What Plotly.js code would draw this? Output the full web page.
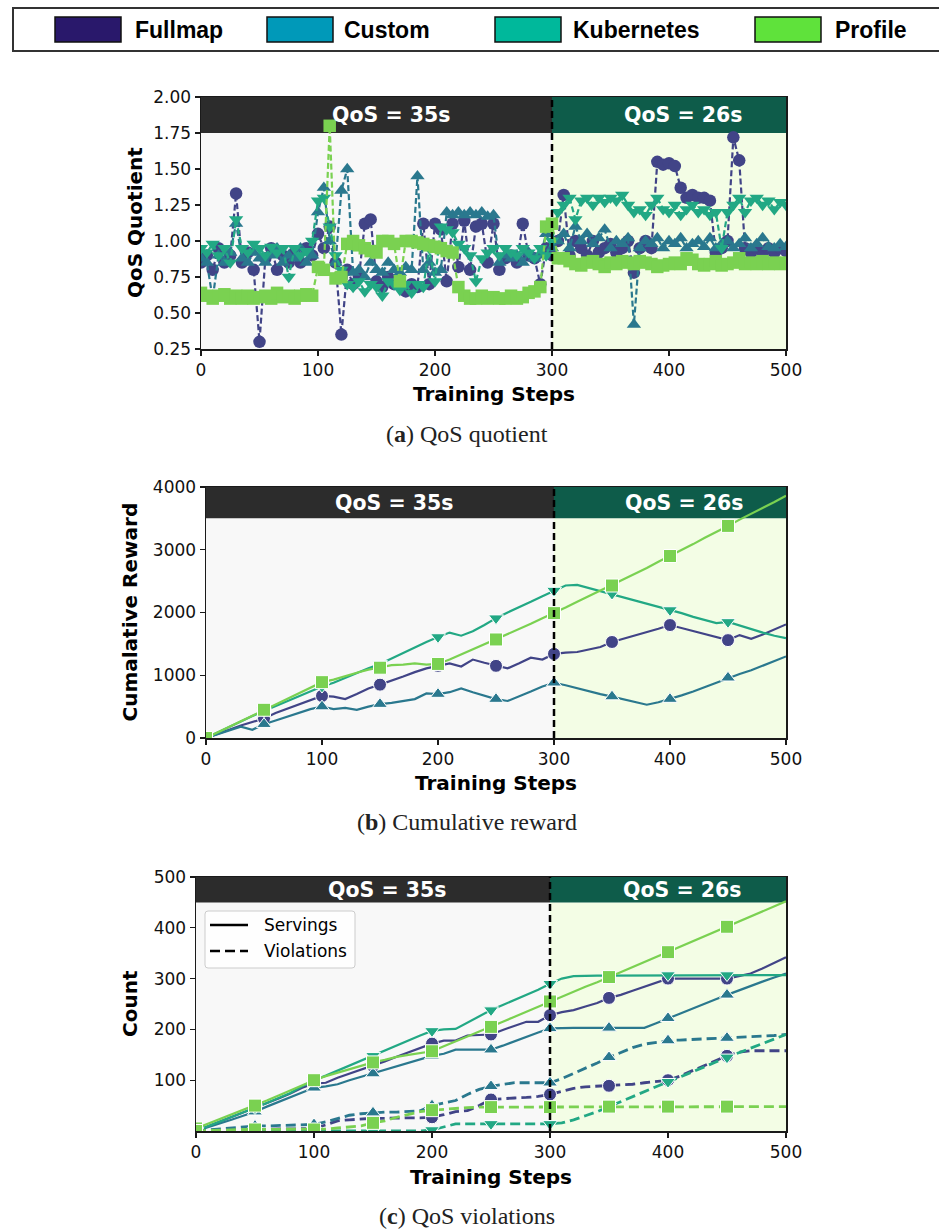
<!DOCTYPE html>
<html>
<head>
<meta charset="utf-8">
<script src="https://cdn.plot.ly/plotly-3.0.1.min.js"></script>
<style>
html,body{margin:0;padding:0;background:#fff;}
#chart{width:939px;height:1232px;}
</style>
</head>
<body>
<div id="chart"></div>
<script>
// ---------------- DATA ----------------
const seriesNames = ["Fullmap", "Custom", "Kubernetes", "Profile"];
const regimeLabels = ["QoS = 35s", "QoS = 26s"];
const switchStep = 300;

// (a) QoS quotient, sampled every 5 training steps (0..500)
const qosFullmap = [0.85,0.9,0.8,0.95,0.85,0.9,1.33,0.85,0.92,0.8,0.3,0.88,0.95,0.8,0.9,0.85,0.92,0.85,0.95,0.9,
  1.05,0.95,1.1,0.85,0.35,0.8,0.7,0.75,1.12,1.15,0.72,0.68,0.75,0.7,0.72,0.65,0.7,0.68,1.12,0.7,
  1.12,1.08,0.72,1.12,0.82,1.14,0.8,1.1,1.12,0.85,1.12,0.8,0.88,0.9,0.85,1.12,0.9,0.88,0.7,0.95,
  0.9,1.0,1.32,0.9,1.0,0.95,0.9,1.0,0.92,0.95,0.98,0.92,0.95,1.0,0.78,0.95,1.0,0.95,1.55,1.53,
  1.54,1.52,1.37,1.3,1.32,1.3,1.3,1.28,0.92,0.95,1.0,1.72,1.56,0.95,0.92,0.95,0.9,0.95,0.92,0.95,0.93];
const qosCustom = [0.88,0.85,0.6,0.9,0.85,0.92,1.12,0.88,0.85,0.92,0.88,0.85,0.9,0.95,0.85,0.9,0.88,0.95,0.85,0.9,
  1.2,1.37,1.0,0.85,1.35,1.5,0.78,0.8,0.75,0.85,0.8,0.78,0.85,0.8,0.78,0.82,0.8,1.45,0.8,0.85,
  0.78,0.8,1.2,1.18,1.2,1.18,1.2,1.18,1.2,1.17,1.18,0.85,0.9,0.88,0.9,0.85,0.92,0.88,0.9,1.05,
  0.95,1.0,1.05,0.95,1.1,1.0,1.05,0.98,1.02,1.08,0.95,1.0,0.98,1.02,0.42,0.95,1.0,0.98,1.02,0.95,
  1.0,0.98,1.02,0.95,0.98,1.0,0.96,1.02,0.95,0.98,1.0,0.95,0.98,1.02,0.95,0.98,1.02,0.96,0.95,0.98,0.96];
const qosKubernetes = [0.95,0.92,0.98,0.9,0.95,0.85,1.15,0.95,0.92,0.98,0.95,0.9,0.96,0.92,0.95,0.75,0.95,0.9,0.93,1.0,
  1.28,1.3,1.1,0.9,0.8,0.7,0.68,0.72,0.65,0.7,0.68,0.62,0.72,0.7,0.66,0.7,0.64,0.7,0.68,0.95,
  0.72,1.1,1.08,1.06,0.98,0.95,0.9,0.72,0.88,0.92,0.95,0.9,0.95,0.92,0.9,0.95,0.92,0.88,0.95,0.9,
  1.0,1.2,1.25,1.3,1.15,1.28,1.3,1.25,1.3,1.27,1.3,1.28,1.32,1.25,1.2,1.22,1.18,1.25,1.3,1.22,
  1.2,1.25,1.18,1.22,1.25,1.2,1.22,1.18,1.2,0.95,1.2,1.25,1.3,1.2,1.28,1.3,1.25,1.28,1.22,1.27,1.25];
const qosProfile = [0.64,0.62,0.6,0.62,0.63,0.6,0.62,0.6,0.62,0.6,0.61,0.62,0.6,0.64,0.61,0.62,0.6,0.62,0.63,0.62,
  0.82,0.8,1.8,0.74,0.75,0.98,1.0,0.97,0.95,0.93,0.92,1.0,1.0,0.98,0.72,1.0,1.0,0.99,0.98,0.97,
  0.96,0.95,0.93,0.92,0.68,0.62,0.6,0.6,0.62,0.6,0.61,0.6,0.6,0.62,0.6,0.61,0.64,0.65,0.68,1.1,
  1.12,0.88,0.88,0.86,0.84,0.83,0.85,0.86,0.84,0.82,0.85,0.84,0.86,0.85,0.84,0.86,0.85,0.84,0.82,0.83,
  0.84,0.85,0.84,0.88,0.87,0.84,0.83,0.84,0.86,0.83,0.84,0.85,0.88,0.84,0.85,0.84,0.86,0.84,0.85,0.84,0.85];

// (b) Cumulative reward, sampled every 10 training steps (0..500)
const rewardFullmap = [0,60,130,200,260,310,400,470,530,600,670,660,620,700,790,850,910,980,1050,1110,
  1150,1190,1140,1250,1200,1150,1110,1190,1280,1250,1340,1360,1370,1410,1450,1530,1580,1630,1680,1740,
  1800,1750,1700,1650,1600,1560,1640,1580,1650,1730,1810];
const rewardCustom = [0,60,120,180,130,220,280,340,400,460,500,460,480,450,500,540,560,590,620,710,
  700,730,790,730,680,620,590,660,740,820,880,840,790,750,700,660,620,570,530,570,
  620,680,740,810,880,960,1020,1080,1150,1230,1300];
const rewardKubernetes = [0,90,180,270,350,430,510,590,670,750,820,880,960,1040,1110,1180,1270,1360,1450,1530,
  1610,1680,1630,1700,1800,1910,2000,2080,2170,2260,2350,2430,2440,2390,2340,2300,2250,2190,2140,2090,
  2040,1990,1930,1880,1830,1850,1790,1730,1680,1630,1590];
const rewardProfile = [0,90,180,270,360,450,540,630,720,810,890,930,990,1040,1090,1120,1160,1170,1190,1170,
  1180,1250,1330,1410,1490,1570,1650,1740,1820,1910,1990,2080,2170,2260,2340,2430,2530,2620,2710,2810,
  2900,2990,3090,3190,3280,3380,3480,3570,3660,3760,3860];

// (c) Servings and violations, sampled every 10 training steps (0..500)
const servFullmap = [0,9,18,27,36,45,55,64,74,85,93,95,105,113,121,128,137,146,155,164,
  172,178,178,188,189,190,199,207,215,215,228,234,238,245,252,262,268,276,284,293,
  300,300,300,300,300,300,305,310,320,331,342];
const servCustom = [0,7,15,22,30,38,48,57,66,76,85,88,92,100,107,113,120,127,134,141,
  148,152,160,160,160,160,168,177,185,194,202,203,203,203,203,203,203,203,203,212,
  222,231,240,250,259,268,277,285,294,302,310];
const servKubernetes = [0,9,18,27,36,45,55,65,75,88,100,109,119,129,139,148,158,168,178,188,
  197,200,201,213,226,238,248,258,268,278,290,300,305,306,306,306,306,306,306,306,
  307,307,307,307,307,307,307,307,307,307,307];
const servProfile = [5,14,23,32,41,50,60,70,80,90,100,108,115,122,129,135,140,146,150,154,
  157,167,176,186,196,205,215,225,235,245,255,265,274,284,293,303,313,323,333,342,
  352,362,372,382,392,402,412,422,432,442,452];
const violFullmap = [0,1,1,2,2,3,3,4,4,5,5,12,20,22,24,25,25,26,26,26,
  27,32,38,40,50,62,64,65,66,68,72,78,84,87,88,89,90,92,95,98,
  100,108,118,128,138,148,155,158,158,158,158];
const violCustom = [0,2,4,6,8,10,10,11,11,12,13,18,25,31,34,36,37,37,38,40,
  50,55,60,72,82,88,92,95,95,95,95,103,113,123,134,145,155,164,171,175,
  178,179,180,181,182,183,184,185,186,188,190];
const violKubernetes = [0,0,0,0,0,0,0,0,0,0,0,0,0,0,0,0,0,0,0,0,
  2,8,14,14,14,14,14,14,14,14,14,16,22,30,38,48,58,68,78,88,
  97,106,116,126,136,145,154,163,172,181,190];
const violProfile = [0,1,2,2,3,3,3,3,3,3,3,4,6,8,10,16,20,27,33,38,
  41,43,45,46,47,47,47,47,47,47,47,47,48,48,48,48,48,48,48,48,
  48,48,48,48,48,48,48,48,48,48,48];

const stepsA = qosFullmap.map((_, i) => i * 5);
const stepsB = rewardFullmap.map((_, i) => i * 10);

// ---------------- STYLE ----------------
const colors = ["#414487", "#2a788e", "#22a884", "#7ad151"];
const legendColors = ["#29186b", "#0099b9", "#00b89b", "#5fe23b"];
const symbols = ["circle", "triangle-up", "triangle-down", "square"];
const W = 939, H = 1232;
const px = x => x / W;
const py = y => 1 - y / H;
const FONT = "DejaVu Sans";

const traces = [];
const qosSeries = [qosFullmap, qosCustom, qosKubernetes, qosProfile];
qosSeries.forEach((ys, i) => {
  traces.push({
    x: stepsA, y: ys, xaxis: "x", yaxis: "y", type: "scatter", mode: "lines+markers",
    line: {color: colors[i], width: 2.2, dash: "6px,3px"},
    marker: {symbol: symbols[i], size: 12.5, color: colors[i], opacity: 1},
    showlegend: false, hoverinfo: "skip"
  });
});
const markSizes = stepsB.map(s => (s % 50 === 0 && s < 500) ? 13 : 0);
const rewardSeries = [rewardFullmap, rewardCustom, rewardKubernetes, rewardProfile];
rewardSeries.forEach((ys, i) => {
  traces.push({
    x: stepsB, y: ys, xaxis: "x2", yaxis: "y2", type: "scatter", mode: "lines+markers",
    line: {color: colors[i], width: 2.2},
    marker: {symbol: symbols[i], size: markSizes, color: colors[i], opacity: 1},
    showlegend: false, hoverinfo: "skip"
  });
});
const servSeries = [servFullmap, servCustom, servKubernetes, servProfile];
const violSeries = [violFullmap, violCustom, violKubernetes, violProfile];
servSeries.forEach((ys, i) => {
  traces.push({
    x: stepsB, y: ys, xaxis: "x3", yaxis: "y3", type: "scatter", mode: "lines+markers",
    line: {color: colors[i], width: 2.2},
    marker: {symbol: symbols[i], size: markSizes, color: colors[i], opacity: 1},
    showlegend: false, hoverinfo: "skip"
  });
});
violSeries.forEach((ys, i) => {
  traces.push({
    x: stepsB, y: ys, xaxis: "x3", yaxis: "y3", type: "scatter", mode: "lines+markers",
    line: {color: colors[i], width: 2.8, dash: "10px,5px"},
    marker: {symbol: symbols[i], size: markSizes, color: colors[i], opacity: 1},
    showlegend: false, hoverinfo: "skip"
  });
});

const axisBase = {
  showline: true, mirror: true, linecolor: "#1a1a1a", linewidth: 1.5,
  ticks: "outside", ticklen: 5, tickwidth: 1.2, tickcolor: "#1a1a1a",
  showgrid: false, zeroline: false,
  tickfont: {family: FONT, size: 17, color: "#111"}
};
const xTicks = [0, 100, 200, 300, 400, 500];

const panels = [
  {xa: "x", ya: "y", ymin: 0.25, ymax: 2.0, band: 1.75, top: 97, bot: 349, left: 201, right: 786, xt: 394, yt: 135, ytitle: "QoS Quotient", cap: 434, capText: "(<b>a</b>) QoS quotient"},
  {xa: "x2", ya: "y2", ymin: 0, ymax: 4000, band: 3500, top: 487, bot: 738, left: 206, right: 786, xt: 783, yt: 130, ytitle: "Cumalative Reward", cap: 822, capText: "(<b>b</b>) Cumulative reward"},
  {xa: "x3", ya: "y3", ymin: 0, ymax: 500, band: 450, top: 877, bot: 1131, left: 196, right: 786, xt: 1177, yt: 130, ytitle: "Count", cap: 1216, capText: "(<b>c</b>) QoS violations"}
];

const shapes = [];
const annotations = [];
panels.forEach(p => {
  shapes.push({type: "rect", xref: p.xa, yref: p.ya, x0: 0, x1: switchStep, y0: p.ymin, y1: p.band, fillcolor: "#f8f8f8", line: {width: 0}, layer: "below"});
  shapes.push({type: "rect", xref: p.xa, yref: p.ya, x0: switchStep, x1: 500, y0: p.ymin, y1: p.band, fillcolor: "#f3fde5", line: {width: 0}, layer: "below"});
  shapes.push({type: "rect", xref: p.xa, yref: p.ya, x0: 0, x1: switchStep, y0: p.band, y1: p.ymax, fillcolor: "#2c2c2c", line: {width: 0}, layer: "below"});
  shapes.push({type: "rect", xref: p.xa, yref: p.ya, x0: switchStep, x1: 500, y0: p.band, y1: p.ymax, fillcolor: "#0e5c4a", line: {width: 0}, layer: "below"});
  shapes.push({type: "line", xref: p.xa, yref: p.ya, x0: switchStep, x1: switchStep, y0: p.ymin, y1: p.ymax, line: {color: "#000", width: 2.5, dash: "7px,4px"}, layer: "above"});
  const bandMid = (p.band + p.ymax) / 2;
  annotations.push({xref: p.xa, yref: p.ya, x: 162, y: bandMid, text: "<b>" + regimeLabels[0] + "</b>", showarrow: false, font: {family: FONT, size: 20.5, color: "#fff"}, xanchor: "center", yanchor: "middle"});
  annotations.push({xref: p.xa, yref: p.ya, x: 412, y: bandMid, text: "<b>" + regimeLabels[1] + "</b>", showarrow: false, font: {family: FONT, size: 20.5, color: "#fff"}, xanchor: "center", yanchor: "middle"});
  annotations.push({xref: "paper", yref: "paper", x: px((p.left + p.right) / 2), y: py(p.xt), text: "<b>Training Steps</b>", showarrow: false, font: {family: FONT, size: 20, color: "#000"}, xanchor: "center", yanchor: "middle"});
  annotations.push({xref: "paper", yref: "paper", x: px(p.yt), y: py((p.top + p.bot) / 2), text: "<b>" + p.ytitle + "</b>", textangle: -90, showarrow: false, font: {family: FONT, size: 20, color: "#000"}, xanchor: "center", yanchor: "middle"});
  annotations.push({xref: "paper", yref: "paper", x: px(467), y: py(p.cap), text: p.capText, showarrow: false, font: {family: "Liberation Serif", size: 24, color: "#222"}, xanchor: "center", yanchor: "middle"});
});

// Top legend box
shapes.push({type: "rect", xref: "paper", yref: "paper", x0: px(13), x1: px(950), y0: py(51), y1: py(8), fillcolor: "#fff", line: {color: "#333", width: 2}});
const patchX = [55, 267, 495, 755];
const textX = [133, 342, 571, 833];
seriesNames.forEach((name, i) => {
  shapes.push({type: "rect", xref: "paper", yref: "paper", x0: px(patchX[i]), x1: px(patchX[i] + 66), y0: py(42), y1: py(17), fillcolor: legendColors[i], line: {color: "#111", width: 1.5}});
  annotations.push({xref: "paper", yref: "paper", x: px(textX[i]), y: py(29.5), text: "<b>" + name + "</b>", showarrow: false, font: {family: "Liberation Sans", size: 23, color: "#000"}, xanchor: "left", yanchor: "middle"});
});

// Inner legend of panel (c)
function roundRect(x0, y0, x1, y1, r) {
  const X0 = px(x0), X1 = px(x1), Y0 = py(y0), Y1 = py(y1);
  const rx = r / W, ry = r / H;
  return `M${X0 + rx},${Y0} L${X1 - rx},${Y0} Q${X1},${Y0} ${X1},${Y0 - ry} L${X1},${Y1 + ry} Q${X1},${Y1} ${X1 - rx},${Y1} L${X0 + rx},${Y1} Q${X0},${Y1} ${X0},${Y1 + ry} L${X0},${Y0 - ry} Q${X0},${Y0} ${X0 + rx},${Y0} Z`;
}
shapes.push({type: "path", xref: "paper", yref: "paper", path: roundRect(205, 911, 355, 968, 3), fillcolor: "rgba(255,255,255,0.85)", line: {color: "#cccccc", width: 1}});
shapes.push({type: "line", xref: "paper", yref: "paper", x0: px(210), x1: px(248), y0: py(925), y1: py(925), line: {color: "#000", width: 2.5}});
shapes.push({type: "line", xref: "paper", yref: "paper", x0: px(210), x1: px(248), y0: py(951), y1: py(951), line: {color: "#000", width: 2.5, dash: "10px,5px"}});
annotations.push({xref: "paper", yref: "paper", x: px(262), y: py(925), text: "Servings", showarrow: false, font: {family: FONT, size: 17, color: "#000"}, xanchor: "left", yanchor: "middle"});
annotations.push({xref: "paper", yref: "paper", x: px(262), y: py(951), text: "Violations", showarrow: false, font: {family: FONT, size: 17, color: "#000"}, xanchor: "left", yanchor: "middle"});

const layout = {
  width: W, height: H,
  margin: {l: 0, r: 0, t: 0, b: 0},
  paper_bgcolor: "#fff", plot_bgcolor: "#fff",
  showlegend: false,
  xaxis: Object.assign({}, axisBase, {domain: [px(201), px(786)], range: [0, 500], tickvals: xTicks, anchor: "y"}),
  yaxis: Object.assign({}, axisBase, {domain: [py(349), py(97)], range: [0.25, 2.0], tickvals: [0.25, 0.5, 0.75, 1.0, 1.25, 1.5, 1.75, 2.0], tickformat: ".2f", anchor: "x"}),
  xaxis2: Object.assign({}, axisBase, {domain: [px(206), px(786)], range: [0, 500], tickvals: xTicks, anchor: "y2"}),
  yaxis2: Object.assign({}, axisBase, {domain: [py(738), py(487)], range: [0, 4000], tickvals: [0, 1000, 2000, 3000, 4000], anchor: "x2"}),
  xaxis3: Object.assign({}, axisBase, {domain: [px(196), px(786)], range: [0, 500], tickvals: xTicks, anchor: "y3"}),
  yaxis3: Object.assign({}, axisBase, {domain: [py(1131), py(877)], range: [0, 500], tickvals: [100, 200, 300, 400, 500], anchor: "x3"}),
  shapes: shapes,
  annotations: annotations
};

Plotly.newPlot("chart", traces, layout, {staticPlot: true, displayModeBar: false});
</script>
</body>
</html>
